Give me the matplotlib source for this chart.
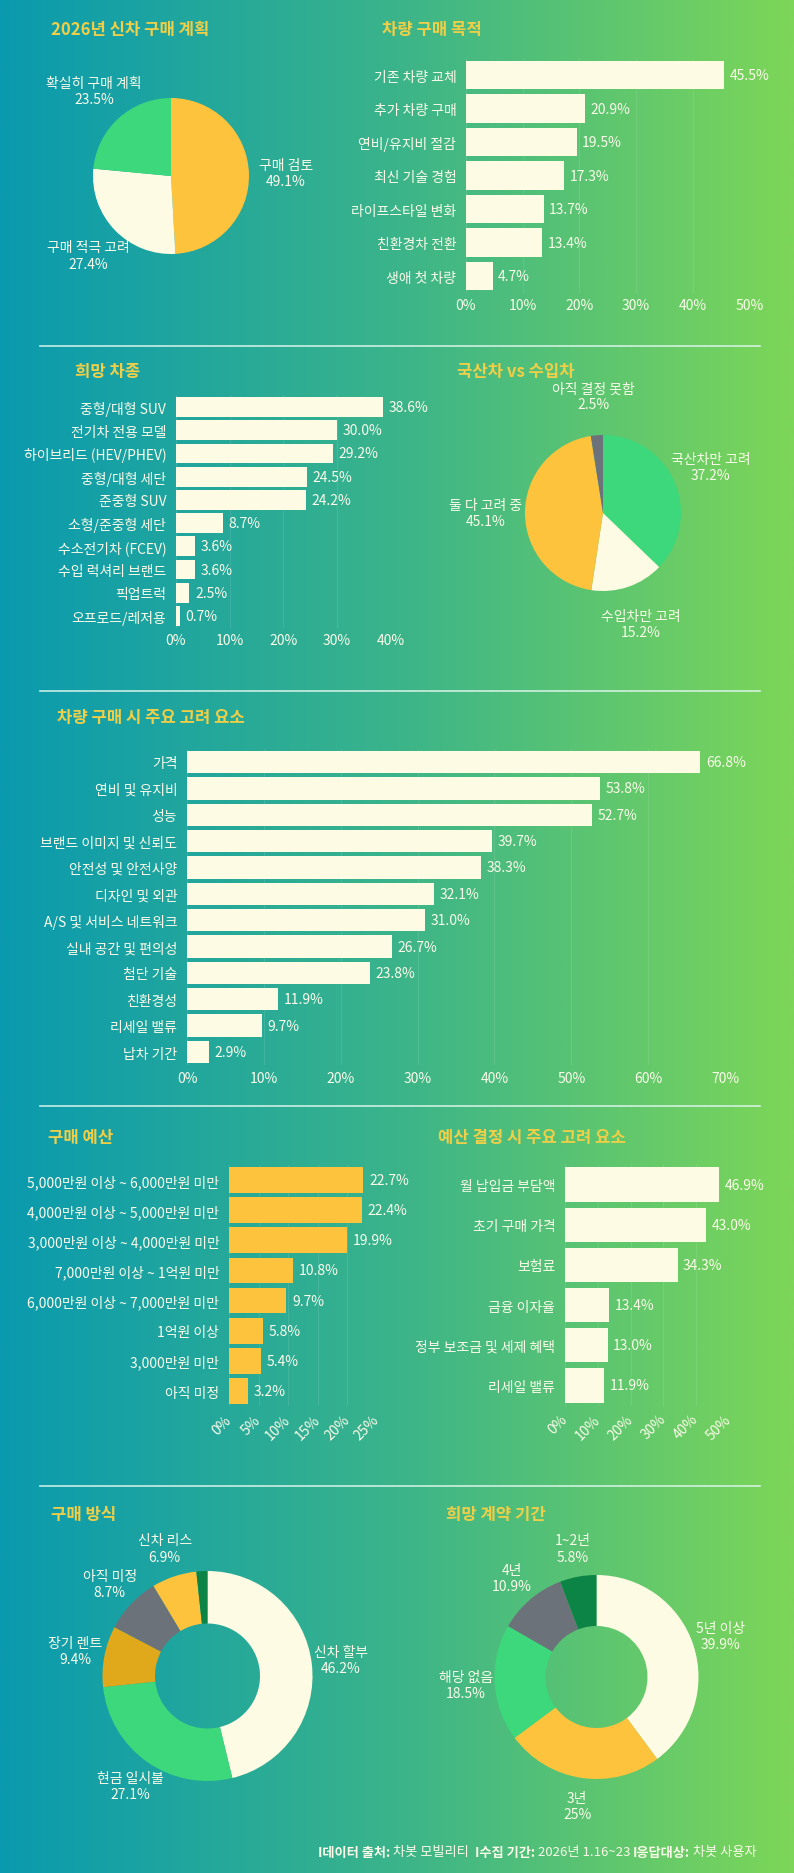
import numpy as np
import matplotlib
matplotlib.use('Agg')
import matplotlib.pyplot as plt
from matplotlib.colors import LinearSegmentedColormap
from matplotlib.offsetbox import TextArea, HPacker, AnnotationBbox

plt.rcParams['font.family'] = ['Noto Sans CJK KR', 'DejaVu Sans']

W, H = 794, 1874
CREAM = '#FDFBE3'
GREEN = '#3DD87B'
YELLOW = '#FDC33C'
DARKYELLOW = '#E0A91B'
GRAY = '#6C7279'
DKGREEN = '#0B8446'
TITLE = '#EFCF48'
TEXT = '#FBFBEA'

# --- data ---
plan_labels = ['구매 검토', '구매 적극 고려', '확실히 구매 계획']
plan_vals = [49.1, 27.4, 23.5]

purpose_cats = ['기존 차량 교체', '추가 차량 구매', '연비/유지비 절감', '최신 기술 경험',
                '라이프스타일 변화', '친환경차 전환', '생애 첫 차량']
purpose_vals = [45.5, 20.9, 19.5, 17.3, 13.7, 13.4, 4.7]

type_cats = ['중형/대형 SUV', '전기차 전용 모델', '하이브리드 (HEV/PHEV)', '중형/대형 세단',
             '준중형 SUV', '소형/준중형 세단', '수소전기차 (FCEV)', '수입 럭셔리 브랜드',
             '픽업트럭', '오프로드/레저용']
type_vals = [38.6, 30.0, 29.2, 24.5, 24.2, 8.7, 3.6, 3.6, 2.5, 0.7]

origin_labels = ['국산차만 고려', '수입차만 고려', '둘 다 고려 중', '아직 결정 못함']
origin_vals = [37.2, 15.2, 45.1, 2.5]

factor_cats = ['가격', '연비 및 유지비', '성능', '브랜드 이미지 및 신뢰도', '안전성 및 안전사양',
               '디자인 및 외관', 'A/S 및 서비스 네트워크', '실내 공간 및 편의성', '첨단 기술',
               '친환경성', '리세일 밸류', '납차 기간']
factor_vals = [66.8, 53.8, 52.7, 39.7, 38.3, 32.1, 31.0, 26.7, 23.8, 11.9, 9.7, 2.9]

budget_cats = ['5,000만원 이상 ~ 6,000만원 미만', '4,000만원 이상 ~ 5,000만원 미만',
               '3,000만원 이상 ~ 4,000만원 미만', '7,000만원 이상 ~ 1억원 미만',
               '6,000만원 이상 ~ 7,000만원 미만', '1억원 이상', '3,000만원 미만', '아직 미정']
budget_vals = [22.7, 22.4, 19.9, 10.8, 9.7, 5.8, 5.4, 3.2]

bfactor_cats = ['월 납입금 부담액', '초기 구매 가격', '보험료', '금융 이자율',
                '정부 보조금 및 세제 혜택', '리세일 밸류']
bfactor_vals = [46.9, 43.0, 34.3, 13.4, 13.0, 11.9]

method_labels = ['신차 할부', '현금 일시불', '장기 렌트', '아직 미정', '신차 리스', '']
method_vals = [46.2, 27.1, 9.4, 8.7, 6.9, 1.7]

term_labels = ['5년 이상', '3년', '해당 없음', '4년', '1~2년']
term_vals = [39.9, 25, 18.5, 10.9, 5.8]

fig = plt.figure(figsize=(W / 100, H / 100), dpi=100)

# background gradient + layout axes in pixel coordinates
bg = fig.add_axes([0, 0, 1, 1], zorder=-10)
cmap = LinearSegmentedColormap.from_list('bg', ['#0A9AAF', '#3BB48A', '#7DD658'])
bg.imshow(np.linspace(0, 1, 400)[None, :], cmap=cmap, aspect='auto',
          extent=[0, W, H, 0])
bg.set_xlim(0, W)
bg.set_ylim(H, 0)
bg.axis('off')

for yy in [347, 692, 1107, 1487]:
    bg.plot([40, 760], [yy, yy], color='#DDF6EC', lw=1.2, alpha=0.9)

titles = [
    (51, 30, '2026년 신차 구매 계획'), (382, 30, '차량 구매 목적'),
    (75, 372, '희망 차종'), (457, 372, '국산차 vs 수입차'),
    (57, 718, '차량 구매 시 주요 고려 요소'),
    (48, 1138, '구매 예산'), (438, 1138, '예산 결정 시 주요 고려 요소'),
    (51, 1515, '구매 방식'), (446, 1515, '희망 계약 기간'),
]
for tx, ty, t in titles:
    bg.text(tx, ty, t, color=TITLE, fontsize=12, fontweight='bold', ha='left', va='center')


def px_axes(x0, y0, x1, y1):
    ax = fig.add_axes([x0 / W, 1 - y1 / H, (x1 - x0) / W, (y1 - y0) / H])
    ax.patch.set_alpha(0)
    return ax


def bar_chart(rect, cats, vals, xmax, step, color, fs=10, rotate=False):
    ax = px_axes(*rect)
    y = np.arange(len(cats))
    ax.barh(y, vals, height=0.85, color=color, zorder=2)
    ax.set_ylim(len(cats) - 0.5, -0.5)
    ax.set_xlim(0, xmax)
    ticks = np.arange(0, xmax + 0.01, step)
    ax.set_xticks(ticks)
    ax.set_xticklabels([f'{t:.0f}%' for t in ticks])
    ax.set_yticks(y)
    ax.set_yticklabels(cats)
    ax.tick_params(length=0, colors=TEXT, labelsize=fs)
    ax.tick_params(axis='y', pad=7)
    ax.tick_params(axis='x', pad=4)
    for s in ax.spines.values():
        s.set_visible(False)
    ax.grid(axis='x', color='white', alpha=0.1, lw=0.8, zorder=0)
    ax.grid(axis='y', visible=False)
    for yi, v in zip(y, vals):
        ax.annotate(f'{v:.1f}%', (v, yi), xytext=(4, 0), textcoords='offset points',
                    va='center', ha='left', color=TEXT, fontsize=fs)
    if rotate:
        ax.tick_params(axis='x', pad=8)
        for lab in ax.get_xticklabels():
            lab.set_rotation(45)
            lab.set_ha('right')
            lab.set_va('center')
            lab.set_rotation_mode('anchor')
    return ax


def pie_chart(cx, cy, r, vals, labels, colors, dist, width=None, fs=10):
    ax = px_axes(cx - r, cy - r, cx + r, cy + r)
    wp = dict(linewidth=0)
    if width:
        wp['width'] = width
    wedges, _ = ax.pie(vals, colors=colors, startangle=90, counterclock=False,
                       radius=1, wedgeprops=wp)
    ax.set_xlim(-1, 1)
    ax.set_ylim(-1, 1)
    ax.set_aspect('equal')
    ax.axis('off')
    for w, lab, v in zip(wedges, labels, vals):
        if not lab:
            continue
        a = np.deg2rad((w.theta1 + w.theta2) / 2)
        ax.text(dist * np.cos(a), dist * np.sin(a), f'{lab}\n{v:g}%', ha='center',
                va='center', color=TEXT, fontsize=fs, linespacing=1.2)
    return ax


# section 1
pie_chart(171, 177, 78, plan_vals, plan_labels, [YELLOW, CREAM, GREEN], 1.47)
bar_chart((466, 59.3, 749.5, 293.8), purpose_cats, purpose_vals, 50, 10, CREAM)

# section 2
bar_chart((176, 396.4, 390.5, 628.6), type_cats, type_vals, 40, 10, CREAM)
pie_chart(603, 514, 78, origin_vals, origin_labels, [GREEN, CREAM, YELLOW, GRAY], 1.5)

# section 3
bar_chart((187, 749.8, 725, 1066.2), factor_cats, factor_vals, 70, 10, CREAM)

# section 4
bar_chart((229, 1165.9, 377, 1407.1), budget_cats, budget_vals, 25, 5, YELLOW, rotate=True)
bar_chart((565, 1165.4, 729, 1406.6), bfactor_cats, bfactor_vals, 50, 10, CREAM, rotate=True)

# section 5
pie_chart(207.5, 1677, 105, method_vals, method_labels,
          [CREAM, GREEN, DARKYELLOW, GRAY, YELLOW, DKGREEN], 1.28, width=0.5)
pie_chart(596.5, 1678, 102, term_vals, term_labels,
          [CREAM, YELLOW, GREEN, GRAY, DKGREEN], 1.28, width=0.5)

# footer
parts = [('I데이터 출처:', 'bold'), (' 차봇 모빌리티  ', 'normal'),
         ('I수집 기간:', 'bold'), (' 2026년 1.16~23 ', 'normal'),
         ('I응답대상:', 'bold'), (' 차봇 사용자', 'normal')]
boxes = [TextArea(t, textprops=dict(color=TEXT, fontsize=9.5, fontweight=wt)) for t, wt in parts]
footer = HPacker(children=boxes, align='center', pad=0, sep=0)
bg.add_artist(AnnotationBbox(footer, (757, 1853), xycoords='data', box_alignment=(1, 0.5),
                             frameon=False, pad=0))

fig.savefig('out.png', dpi=100)
